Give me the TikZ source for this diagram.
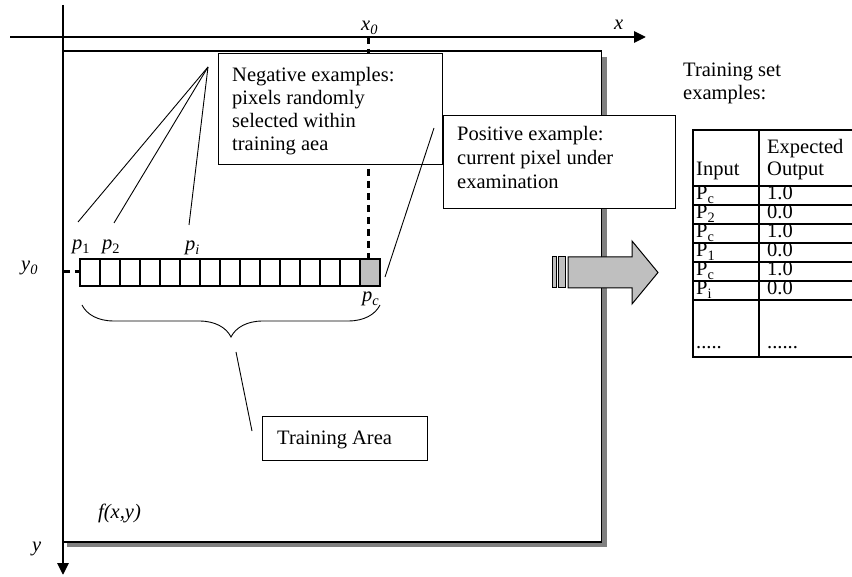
\documentclass[tikz,border=0pt]{standalone}
\usepackage{fontspec}
\setmainfont{Liberation Serif}
\usetikzlibrary{arrows.meta,decorations.pathreplacing}
\begin{document}
\begin{tikzpicture}[x=1pt,y=-1pt,
  txt/.style={font=\fontsize{20.5}{23.5}\selectfont, inner sep=0pt, anchor=base west},
  itxt/.style={txt, font=\fontsize{20.5}{23.5}\selectfont\itshape},
  box/.style={draw, fill=white, line width=1.2pt, inner sep=0pt, anchor=north west},
  cellbox/.style={draw, line width=1.2pt, inner sep=0pt, minimum width=20pt, minimum height=27pt},
  axis/.style={line width=2.8pt, -{Triangle[length=12pt,width=11pt]}},
  guide/.style={line width=3pt, dash pattern=on 7pt off 5pt},
  thin/.style={line width=0.9pt},
  tline/.style={line width=1.2pt},
  tborder/.style={line width=2pt}]
\useasboundingbox (0,0) rectangle (852,577);
\fill[white] (0,0) rectangle (852,577);

% shadow and main rectangle
\fill[black!50] (602,57) rectangle (607,547);
\fill[black!50] (67,542) rectangle (607,547);
\draw[line width=1.3pt, fill=white] (63,51) rectangle (601.5,542);

% axes
\coordinate (xa0) at (10,37);
\coordinate (xa1) at (646,37);
\coordinate (ya0) at (63,5);
\coordinate (ya1) at (63,575);
\draw[axis] (xa0) -- (xa1);
\draw[axis] (ya0) -- (ya1);
\node[itxt] (xl) at (614,30) {x};
\node[itxt] (x0l) at (361,31) {x\textsubscript{0}};
\node[itxt] (y0l) at (21,271) {y\textsubscript{0}};
\node[itxt] (yl) at (32,551) {y};

% guide lines
\coordinate (gx0) at (368,37);
\coordinate (gx1) at (368,259);
\coordinate (gy0) at (63,272);
\coordinate (gy1) at (80,272);
\draw[guide] (gx0) -- (gx1);
\draw[guide] (gy0) -- (gy1);

% pixel cells
\foreach \i in {0,...,13} \node[cellbox] (c\i) at (90+20*\i,272.5) {};
\node[cellbox, fill=black!25] (cpc) at (370,272.5) {};

% pixel labels
\node[txt] (p1) at (72,250) {\textit{p}\textsubscript{1}};
\node[txt] (p2) at (102,250) {\textit{p}\textsubscript{2}};
\node[txt] (pi) at (185,251) {\textit{p}\textsubscript{\textit{i}}};
\node[txt] (pc) at (362,302) {\textit{p}\textsubscript{\textit{c}}};

% brace
\coordinate (b0) at (82,305);
\coordinate (b1) at (380,305);
\draw[thin, decorate, decoration={brace, amplitude=32pt, mirror}] (b0) -- (b1);

% negative examples box
\node[box, minimum width=224pt, minimum height=111pt] (neg) at (218,53) {};
\node[txt] (n1) at (232,82) {Negative examples:};
\node[txt] (n2) at (232,105) {pixels randomly};
\node[txt] (n3) at (232,128) {selected within};
\node[txt] (n4) at (232,151) {training aea};
\coordinate (nf) at (208,67);
\coordinate (e1) at (78,222);
\coordinate (e2) at (114,223);
\coordinate (e3) at (189,225);
\draw[thin] (nf) -- (e1);
\draw[thin] (nf) -- (e2);
\draw[thin] (nf) -- (e3);

% positive example box
\node[box, minimum width=232pt, minimum height=93pt] (pos) at (443,115) {};
\node[txt] (q1) at (457,141) {Positive example:};
\node[txt] (q2) at (457,165) {current pixel under};
\node[txt] (q3) at (457,189) {examination};
\coordinate (pf) at (434,128);
\coordinate (pe) at (385,277);
\draw[thin] (pe) -- (pf);

% training area
\node[box, minimum width=165pt, minimum height=44pt] (ta) at (262,416) {};
\node[txt] (tat) at (277,445) {Training Area};
\coordinate (bt) at (236,352);
\coordinate (te) at (252,431);
\draw[thin] (bt) -- (te);

\node[itxt] (fxy) at (98,518) {f(x,y)};

% big arrow
\draw[line width=1pt, fill=black!25] (552,257) rectangle (556,288);
\draw[line width=1pt, fill=black!25] (558,257) rectangle (565,288);
\draw[line width=1pt, fill=black!25] (568,257) -- (632,257) -- (632,241) -- (658,272.5) -- (632,304) -- (632,288) -- (568,288) -- cycle;

% table
\node[txt] (ts1) at (683,77) {Training set};
\node[txt] (ts2) at (683,100) {examples:};
\foreach \yy in {186,205,224,243,262,281,300} \draw[tline] (693,\yy) -- (852,\yy);
\draw[tline] (759,130) -- (759,357);
\draw[tborder] (852,130) -- (693,130) -- (693,357) -- (852,357);
\node[txt] (h1) at (767,154) {Expected};
\node[txt] (h2) at (767,176) {Output};
\node[txt] (h3) at (696,176) {Input};
\node[txt] (r1a) at (696,200) {P\textsubscript{c}};
\node[txt] (r1b) at (767,200) {1.0};
\node[txt] (r2a) at (696,219) {P\textsubscript{2}};
\node[txt] (r2b) at (767,219) {0.0};
\node[txt] (r3a) at (696,238) {P\textsubscript{c}};
\node[txt] (r3b) at (767,238) {1.0};
\node[txt] (r4a) at (696,257) {P\textsubscript{1}};
\node[txt] (r4b) at (767,257) {0.0};
\node[txt] (r5a) at (696,276) {P\textsubscript{c}};
\node[txt] (r5b) at (767,276) {1.0};
\node[txt] (r6a) at (696,295) {P\textsubscript{i}};
\node[txt] (r6b) at (767,295) {0.0};
\node[txt] (r7a) at (696,349) {.....};
\node[txt] (r7b) at (767,349) {......};
\end{tikzpicture}
\end{document}
